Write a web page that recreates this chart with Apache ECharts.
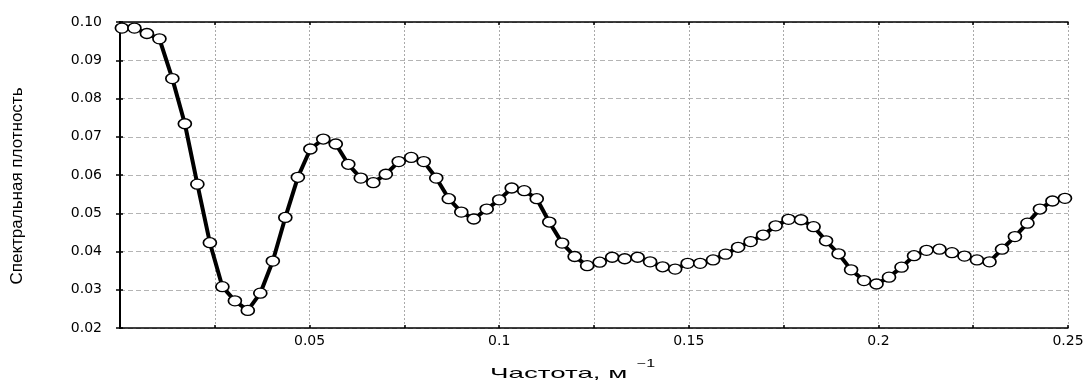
<!DOCTYPE html>
<html>
<head>
<meta charset="utf-8">
<script src="https://cdn.jsdelivr.net/npm/echarts@6/dist/echarts.min.js"></script>
<style>
html,body{margin:0;padding:0;background:#fff;}
#chart{width:1089px;height:380px;}
</style>
</head>
<body>
<div id="chart"></div>
<script>
// Frequency (1/m)
const frequency = [
  0.0005, 0.0038, 0.0071, 0.0104, 0.0138, 0.0171, 0.0204, 0.0237, 0.0270, 0.0303,
  0.0337, 0.0370, 0.0403, 0.0436, 0.0469, 0.0502, 0.0536, 0.0569, 0.0602, 0.0635,
  0.0668, 0.0701, 0.0735, 0.0768, 0.0801, 0.0834, 0.0867, 0.0900, 0.0933, 0.0967,
  0.1000, 0.1033, 0.1066, 0.1099, 0.1132, 0.1166, 0.1199, 0.1232, 0.1265, 0.1298,
  0.1331, 0.1365, 0.1398, 0.1431, 0.1464, 0.1497, 0.1530, 0.1564, 0.1597, 0.1630,
  0.1663, 0.1696, 0.1729, 0.1763, 0.1796, 0.1829, 0.1862, 0.1895, 0.1928, 0.1962,
  0.1995, 0.2028, 0.2061, 0.2094, 0.2127, 0.2161, 0.2194, 0.2227, 0.2260, 0.2293,
  0.2326, 0.2360, 0.2393, 0.2426, 0.2459, 0.2492
];
// Spectral density
const density = [
  0.0984, 0.0984, 0.0970, 0.0956, 0.0852, 0.0734, 0.0576, 0.0423, 0.0308, 0.0271,
  0.0246, 0.0291, 0.0375, 0.0489, 0.0594, 0.0668, 0.0694, 0.0681, 0.0628, 0.0592,
  0.0580, 0.0602, 0.0635, 0.0646, 0.0635, 0.0592, 0.0538, 0.0503, 0.0485, 0.0511,
  0.0535, 0.0566, 0.0559, 0.0538, 0.0477, 0.0422, 0.0387, 0.0363, 0.0372, 0.0385,
  0.0381, 0.0385, 0.0373, 0.0360, 0.0354, 0.0369, 0.0369, 0.0378, 0.0393, 0.0411,
  0.0426, 0.0443, 0.0467, 0.0484, 0.0483, 0.0465, 0.0428, 0.0394, 0.0352, 0.0324,
  0.0315, 0.0333, 0.0359, 0.0389, 0.0403, 0.0406, 0.0397, 0.0388, 0.0378, 0.0373,
  0.0406, 0.0439, 0.0474, 0.0511, 0.0532, 0.0539
];
const xLabelValues = [0.05, 0.1, 0.15, 0.2, 0.25];
const yTitle = 'Спектральная плотность';
const xTitle = 'Частота, м';
const xTitleSup = '−1';

const points = frequency.map((f, i) => [f, density[i]]);
const chart = echarts.init(document.getElementById('chart'), null, {renderer: 'canvas'});
const FONT = 'Liberation Sans, Arial, sans-serif';
const LABEL_FONT = 'DejaVu Sans, Liberation Sans, sans-serif';
const axisLineStyle = {lineStyle: {color: '#000', width: 1.5}};

chart.setOption({
  animation: false,
  backgroundColor: '#fff',
  grid: {left: 120, right: 21, top: 22, bottom: 52, containLabel: false, outerBoundsMode: 'none'},
  graphic: [
    {type: 'text', x: 490, y: 381, scaleX: 1.85, scaleY: 1, silent: true,
     style: {text: xTitle, fontFamily: FONT, fontSize: 15, fill: '#000', align: 'left', verticalAlign: 'bottom'}},
    {type: 'text', x: 637, y: 369, scaleX: 1.6, scaleY: 1, silent: true,
     style: {text: xTitleSup, fontFamily: FONT, fontSize: 10, fill: '#000', align: 'left', verticalAlign: 'bottom'}}
  ],
  xAxis: [{
    type: 'value', position: 'bottom', min: 0, max: 0.25, interval: 0.025,
    axisLine: axisLineStyle,
    axisTick: {show: true, inside: true, length: 3, lineStyle: {color: '#000', width: 1.5}},
    axisLabel: {
      color: '#000', fontFamily: LABEL_FONT, fontSize: 14, margin: 6,
      formatter: v => {
        const r = +v.toFixed(3);
        return xLabelValues.some(l => Math.abs(l - r) < 1e-6) ? String(r) : '';
      }
    },
    splitLine: {show: true, lineStyle: {color: '#aaa', type: [2, 2], width: 1}}
  }, {
    type: 'value', position: 'top', min: 0, max: 0.25, interval: 0.025,
    axisLine: axisLineStyle,
    axisTick: {show: true, inside: true, length: 3, lineStyle: {color: '#000', width: 1.5}},
    axisLabel: {show: false}, splitLine: {show: false}
  }],
  yAxis: [{
    type: 'value', position: 'left', min: 0.02, max: 0.10, interval: 0.01,
    axisLine: axisLineStyle,
    axisTick: {show: true, inside: true, length: 3, lineStyle: {color: '#000', width: 1.5}},
    axisLabel: {color: '#000', fontFamily: LABEL_FONT, fontSize: 14, margin: 18, formatter: v => v.toFixed(2)},
    splitLine: {show: true, lineStyle: {color: '#b4b4b4', type: [5, 3], width: 1}},
    name: yTitle, nameLocation: 'middle', nameRotate: 90, nameGap: 94,
    nameTextStyle: {color: '#000', fontFamily: 'Liberation Sans Narrow, Liberation Sans', fontSize: 17, padding: [0, 22, 0, 0]}
  }, {
    type: 'value', position: 'right', min: 0.02, max: 0.10, interval: 0.01,
    axisLine: {lineStyle: {color: '#000', width: 2}},
    axisTick: {show: true, inside: true, length: 4, lineStyle: {color: '#000', width: 1.5}},
    axisLabel: {show: false}, splitLine: {show: false}
  }],
  series: [{
    type: 'line', xAxisIndex: 0, yAxisIndex: 0,
    data: points,
    lineStyle: {color: '#000', width: 4},
    symbol: 'circle', symbolSize: [13, 10], showAllSymbol: true,
    itemStyle: {color: '#fff', borderColor: '#000', borderWidth: 1.5},
    clip: false, z: 5
  }]
});
</script>
</body>
</html>
